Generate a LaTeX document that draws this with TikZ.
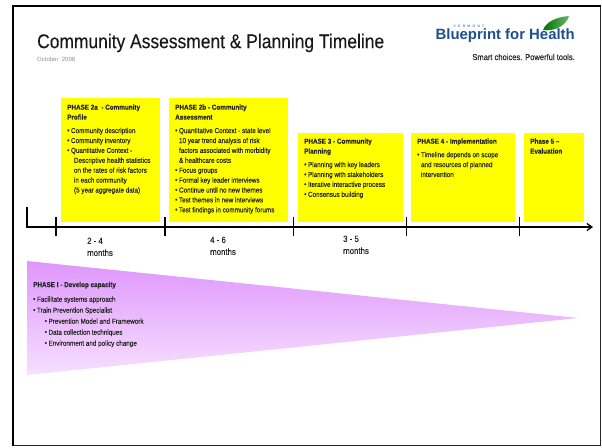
\documentclass[tikz,border=0pt]{standalone}
\usepackage{fontspec}
\setmainfont{Liberation Sans}
\newfontfamily\narrowf[FakeStretch=0.88,FakeBold=0.15]{Liberation Sans}
\usetikzlibrary{arrows.meta}
\definecolor{logoblue}{HTML}{1F4F8F}
\definecolor{phaseyellow}{HTML}{FFFF00}
\newcommand{\bl}{\makebox[3.8pt][l]{\raisebox{0.3pt}{\scalebox{1.0}{•}}}}
\newcommand{\ind}{\hspace*{3.8pt}}
\tikzset{
  x=1pt,y=1pt,
  phasetext/.style={anchor=north west,inner sep=0pt,align=left,font=\narrowf\fontsize{7.2}{9.9}\selectfont,text=black!85},
  monthtext/.style={anchor=north west,inner sep=0pt,align=left,font=\narrowf\fontsize{8.9}{12}\selectfont,text=black!85},
  axisline/.style={line width=1.2pt,black},
  tick/.style={line width=1.1pt,black},
}
\begin{document}
\begin{tikzpicture}
\useasboundingbox (0,0) rectangle (602,-447);
\fill[white] (0,0) rectangle (602,-447);
% frame
\draw[line width=1.2pt,black!85] (600.5,-6) -- (600.5,-445.6) -- (13,-445.6);
\draw[line width=2.4pt,black] (13,-445.6) -- (13,-6) -- (600.5,-6);
% title
\node[anchor=west,inner sep=0pt,font=\narrowf\fontsize{19.8}{20}\selectfont,text=black!90] (title) at (37,-43) {Community Assessment \& Planning Timeline};
\node[anchor=west,inner sep=0pt,font=\fontsize{6}{7}\selectfont,text=black!45] (date) at (37,-59) {October\ \ 2008};
% logo
\node[anchor=west,inner sep=0pt,font=\fontsize{14.9}{16}\bfseries\selectfont,text=logoblue] (logo) at (435.5,-36) {Blueprint for Health};
\node[anchor=center,inner sep=0pt,font=\fontsize{3.4}{4}\bfseries\selectfont,text=logoblue!70] (vt) at (469,-26.5) {V\,\,\,\,E\,\,\,\,R\,\,\,\,M\,\,\,\,O\,\,\,\,N\,\,\,\,T};
\node[anchor=east,inner sep=0pt,font=\narrowf\fontsize{8.6}{8}\selectfont,text=black!85] (tag) at (575,-57) {Smart choices. Powerful tools.};
\shade[left color=green!45!black,right color=green!55!black!60!white]
  (543,-30) .. controls (546,-22) and (556,-17) .. (569,-16)
  .. controls (567,-24) and (556,-32) .. (543,-30) -- cycle;
% phase boxes
\fill[phaseyellow] (61,-98) rectangle (160,-222);
\fill[phaseyellow] (169,-98) rectangle (288,-222);
\fill[phaseyellow] (298,-133) rectangle (403,-222);
\fill[phaseyellow] (411,-133) rectangle (515,-222);
\fill[phaseyellow] (524,-133) rectangle (584,-222);
% phase texts
\node[phasetext] (p2a) at (67,-104.3) {\textbf{PHASE 2a\ \ - Community}\\\textbf{Profile}\\[3.6pt]
\bl Community description\\\bl Community inventory\\\bl Quantitative Context -\\\ind\ \,Descriptive health statistics\\\ind\ \,on the rates of risk factors\\\ind\ \,in each community\\\ind\ \,(5 year aggregate data)};
\node[phasetext] (p2b) at (175,-104.3) {\textbf{PHASE 2b - Community}\\\textbf{Assessment}\\[3.6pt]
\bl Quantitative Context - state level\\\ind 10 year trend analysis of risk\\\ind factors associated with morbidity\\\ind \& healthcare costs\\\bl Focus groups\\\bl Formal key leader interviews\\\bl Continue until no new themes\\\bl Test themes in new interviews\\\bl Test findings in community forums};
\node[phasetext] (p3) at (304,-138.3) {\textbf{PHASE 3 - Community}\\\textbf{Planning}\\[3.6pt]
\bl Planning with key leaders\\\bl Planning with stakeholders\\\bl Iterative interactive process\\\bl Consensus building};
\node[phasetext] (p4) at (417,-138.3) {\textbf{PHASE 4 - Implementation}\\[3.6pt]
\bl Timeline depends on scope\\\ind and resources of planned\\\ind intervention};
\node[phasetext] (p5) at (530,-138.3) {\textbf{Phase 5 –}\\\textbf{Evaluation}};
% timeline
\coordinate (start) at (27,-207);
\coordinate (corner) at (27,-227);
\coordinate (end) at (593,-227);
\draw[axisline,-{Straight Barb[length=5pt,width=7pt,line width=1.3pt]},line join=miter] (start) -- (corner) -- (end);
\foreach \n/\x in {a/56,b/165,c/293.5,d/406.5,e/519.5}{
  \coordinate (t\n u) at (\x,-217);
  \coordinate (t\n d) at (\x,-236);
  \draw[tick] (t\n u) -- (t\n d);
}
\node[monthtext] (m1) at (87,-237.5) {2 - 4\\months};
\node[monthtext] (m2) at (210,-236.5) {4 - 6\\months};
\node[monthtext] (m3) at (343,-235.5) {3 - 5\\months};
% capacity wedge
\shade[top color={rgb,255:red,223;green,150;blue,252},bottom color={rgb,255:red,246;green,224;blue,255}]
  (27,-261) -- (578,-318) -- (27,-375) -- cycle;
\node[phasetext,font=\narrowf\fontsize{7.2}{11}\selectfont] (p1) at (33,-281.7) {\textbf{PHASE I - Develop capacity}\\[3.6pt]
\bl Facilitate systems approach\\\bl Train Prevention Specialist\\\hspace*{11.5pt}\bl Prevention Model and Framework\\\hspace*{11.5pt}\bl Data collection techniques\\\hspace*{11.5pt}\bl Environment and policy change};
\end{tikzpicture}
\end{document}
